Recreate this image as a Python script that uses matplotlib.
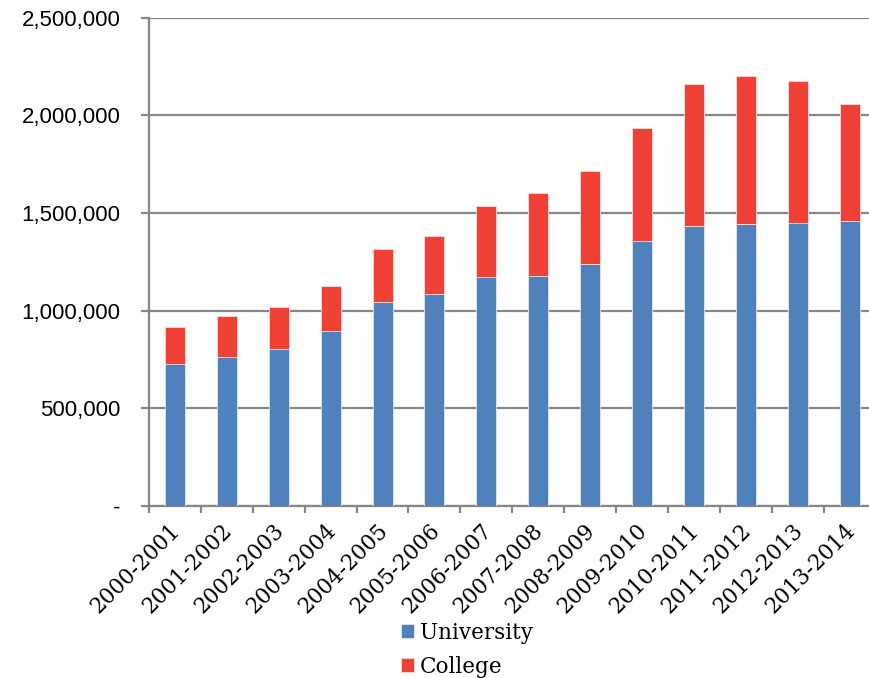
import matplotlib
matplotlib.use("Agg")
import matplotlib.pyplot as plt
import numpy as np
from matplotlib.ticker import FuncFormatter, FixedLocator
import matplotlib.transforms as mtransforms

years = ["2000-2001", "2001-2002", "2002-2003", "2003-2004", "2004-2005",
         "2005-2006", "2006-2007", "2007-2008", "2008-2009", "2009-2010",
         "2010-2011", "2011-2012", "2012-2013", "2013-2014"]
university = [727000, 761000, 802000, 894000, 1042000, 1083000, 1170000,
              1177000, 1240000, 1356000, 1433000, 1445000, 1448000, 1458000]
total = [915000, 971000, 1017000, 1126000, 1315000, 1383000, 1537000,
         1600000, 1716000, 1933000, 2160000, 2202000, 2175000, 2059000]
college = [t - u for t, u in zip(total, university)]

BLUE = "#4F81BD"
RED = "#EF4136"
GRID = "#878787"

fig = plt.figure(figsize=(8.7, 6.78), dpi=100)
ax = fig.add_axes([149/870, 1 - 506/678, 726.6/870, (506 - 17.7)/678])

x = np.arange(len(years))
w = 0.385
ax.bar(x, university, width=w, color=BLUE, edgecolor="#dfe8f3", linewidth=0.6,
       label="University", zorder=3)
ax.bar(x, college, width=w, bottom=university, color=RED, edgecolor="#fbd9d6",
       linewidth=0.6, label="College", zorder=3)

ax.set_xlim(-0.5, len(years) - 0.5)
ax.set_ylim(0, 2500000)
ax.set_yticks(np.arange(0, 2500001, 500000))
ax.yaxis.set_major_formatter(FuncFormatter(lambda v, p: "-" if v == 0 else f"{int(v):,}"))
ax.grid(axis="y", color=GRID, linewidth=1.6, zorder=0)
ax.set_axisbelow(True)

for s in ["top", "right"]:
    ax.spines[s].set_visible(False)
for s in ["left", "bottom"]:
    ax.spines[s].set_color(GRID)
    ax.spines[s].set_linewidth(1.6)

ax.tick_params(axis="y", length=5.5, width=1.6, color=GRID, pad=15,
               labelsize=16)
for lab in ax.get_yticklabels():
    lab.set_family("Liberation Sans")

ax.set_xticks(x)
ax.set_xticklabels(years, rotation=45, ha="right", va="center",
                   rotation_mode="anchor", family="DejaVu Serif", fontsize=15.5)
ax.tick_params(axis="x", which="major", length=0, pad=15)
ax.xaxis.set_minor_locator(FixedLocator(np.arange(-0.5, len(years), 1.0)))
ax.tick_params(axis="x", which="minor", length=5, width=1.6, color=GRID)
offset = mtransforms.ScaledTranslation(2/100, 0, fig.dpi_scale_trans)
for lab in ax.get_xticklabels():
    lab.set_transform(lab.get_transform() + offset)

leg = fig.legend(loc="upper left", bbox_to_anchor=(401/870, 1 - 622/678),
                 frameon=False, prop={"family": "DejaVu Serif", "size": 15.5},
                 handlelength=0.62, handleheight=0.62, handletextpad=0.25,
                 labelspacing=0.55, borderpad=0, borderaxespad=0)

fig.savefig("out.png", dpi=100)
